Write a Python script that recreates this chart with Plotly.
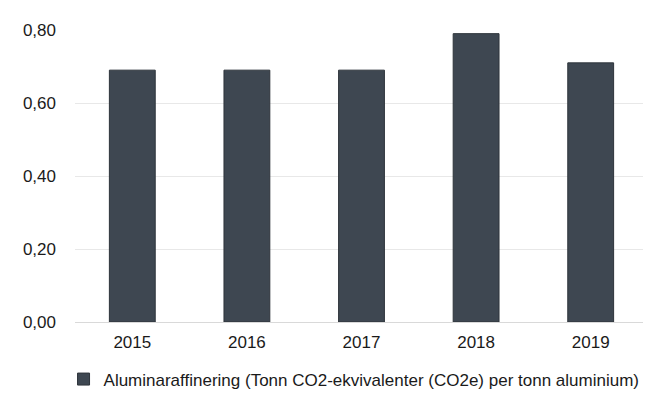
import plotly.graph_objects as go

years = ["2015", "2016", "2017", "2018", "2019"]
values = [0.69, 0.69, 0.69, 0.79, 0.71]
series_name = "Aluminaraffinering (Tonn CO2-ekvivalenter (CO2e) per tonn aluminium)"
tick_vals = [0.0, 0.2, 0.4, 0.6, 0.8]
tick_text = ["0,00", "0,20", "0,40", "0,60", "0,80"]

fig = go.Figure()
fig.add_trace(go.Bar(
    x=years, y=values, name=series_name,
    marker=dict(color="#3e4751", line=dict(color="#2e343b", width=1)),
    width=0.4,
    showlegend=True,
))

fig.update_layout(
    width=651, height=401,
    margin=dict(l=67, r=11, t=22, b=80),
    plot_bgcolor="white", paper_bgcolor="white",
    font=dict(family="Liberation Sans, Arial, sans-serif", size=17, color="#1a1a1a"),
    showlegend=True,
    legend=dict(orientation="h", x=-0.02, xanchor="left", y=-0.197, yanchor="middle",
                font=dict(size=17, color="#1a1a1a"), itemwidth=30),
)
fig.update_xaxes(showgrid=False, showline=True, linecolor="#d9d9d9", linewidth=1,
                 ticks="", tickfont=dict(size=17), ticklabelstandoff=5)
fig.update_yaxes(range=[0, 0.8], tickvals=tick_vals, ticktext=tick_text,
                 showgrid=True, gridcolor="#e8e8e8", gridwidth=1, zeroline=False,
                 showline=False, ticks="", ticklabelstandoff=18, tickfont=dict(size=17))

fig.write_html("out.html")
